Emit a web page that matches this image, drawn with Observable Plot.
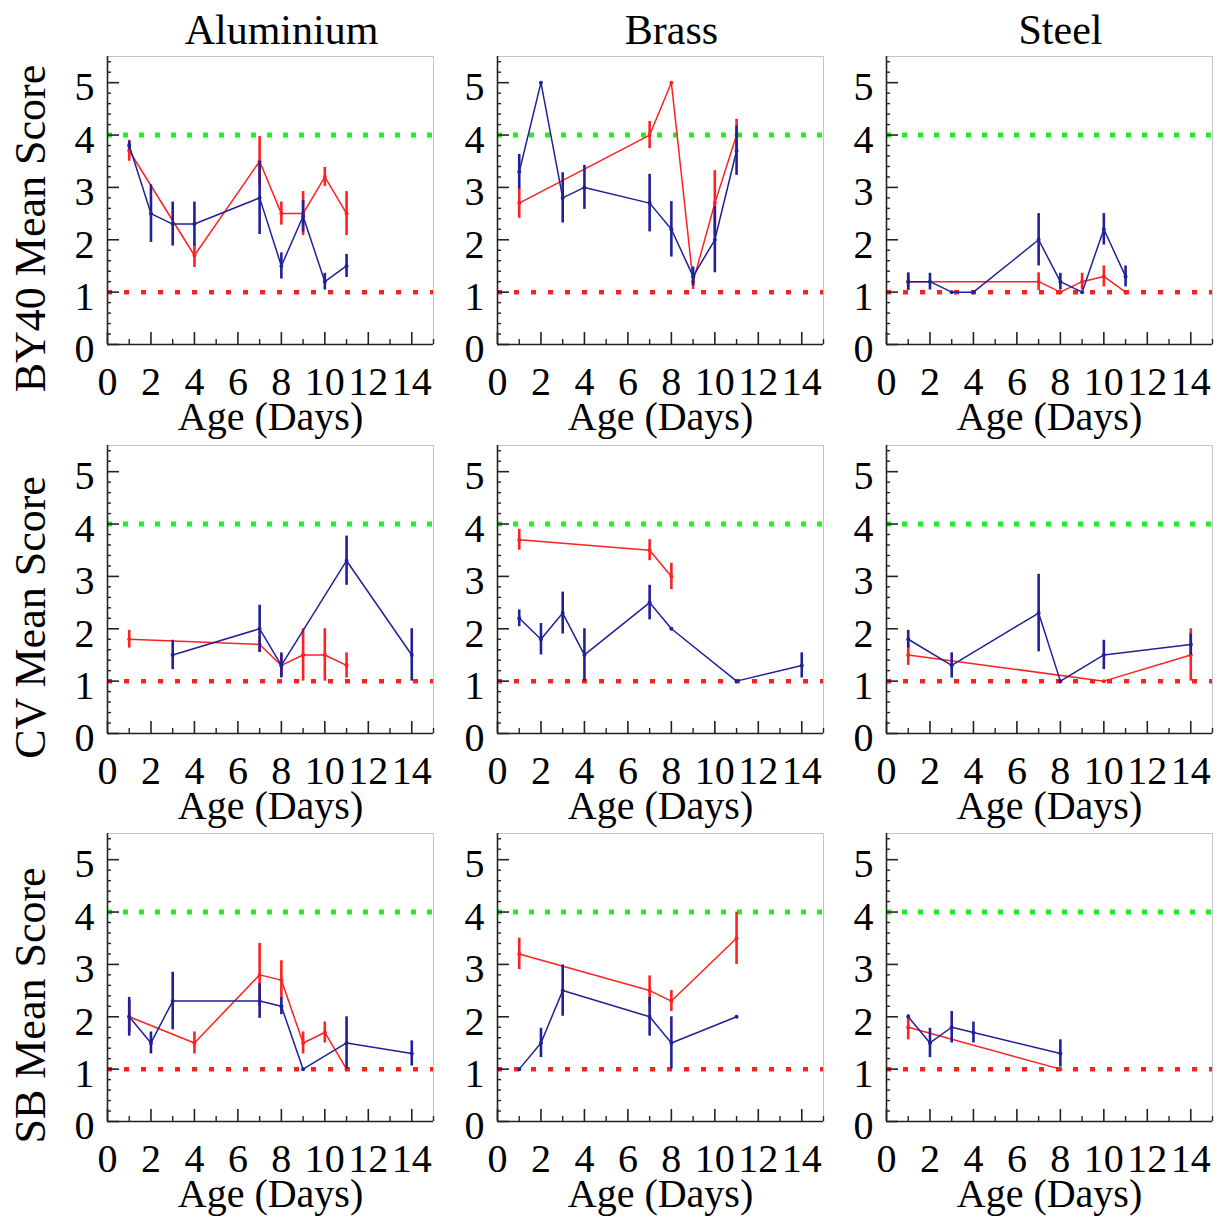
<!DOCTYPE html>
<html>
<head>
<meta charset="utf-8">
<script src="https://cdn.jsdelivr.net/npm/d3@7"></script>
<script src="https://cdn.jsdelivr.net/npm/@observablehq/plot@0.6"></script>
<style>
  html, body { margin: 0; padding: 0; background: #fff; overflow: hidden; }
  #chart { position: relative; width: 1222px; height: 1218px; }
  #chart svg { position: absolute; }
</style>
</head>
<body>
<div id="chart"></div>
<script>
// ---- categories & tick labels ----
const materials = ["Aluminium", "Brass", "Steel"];
const metrics = ["BY40", "CV", "SB"];
const rowLabels = ["BY40 Mean Score", "CV Mean Score", "SB Mean Score"];
const xLabel = "Age (Days)";
const xTickLabels = [0, 2, 4, 6, 8, 10, 12, 14];
const yTickLabels = [0, 1, 2, 3, 4, 5];
const upperThreshold = [4];
const lowerThreshold = [1];

// ---- series values: [day, mean score, error] ----
const al_by40_red  = [[1,3.7,0.2],[4,1.7,0.23],[7,3.5,0.47],[8,2.5,0.22],[9,2.5,0.42],[10,3.2,0.18],[11,2.5,0.42]];
const al_by40_blue = [[1,3.8,0.08],[2,2.5,0.55],[3,2.3,0.42],[4,2.3,0.42],[7,2.8,0.7],[8,1.5,0.25],[9,2.45,0.3],[10,1.2,0.16],[11,1.5,0.22]];
const br_by40_red  = [[1,2.7,0.29],[7,4.0,0.26],[8,5.0,0],[9,1.2,0.15],[10,2.7,0.62],[11,4.0,0.3]];
const br_by40_blue = [[1,3.3,0.33],[2,5.0,0],[3,2.8,0.48],[4,3.0,0.42],[7,2.7,0.55],[8,2.2,0.53],[9,1.3,0.18],[10,2.0,0.63],[11,3.7,0.47]];
const st_by40_red  = [[1,1.2,0.17],[7,1.2,0.17],[8,1.0,0],[9,1.2,0.16],[10,1.3,0.2],[11,1.0,0]];
const st_by40_blue = [[1,1.2,0.16],[2,1.2,0.16],[3,1.0,0],[4,1.0,0],[7,2.0,0.5],[8,1.2,0.16],[9,1.0,0],[10,2.2,0.3],[11,1.3,0.2]];

const al_cv_red  = [[1,1.8,0.17],[7,1.7,0.15],[8,1.3,0.2],[9,1.5,0.5],[10,1.5,0.5],[11,1.3,0.24]];
const al_cv_blue = [[3,1.5,0.28],[7,2.0,0.45],[8,1.3,0.24],[11,3.3,0.47],[14,1.5,0.5]];
const br_cv_red  = [[1,3.7,0.2],[7,3.5,0.2],[8,3.0,0.25]];
const br_cv_blue = [[1,2.2,0.16],[2,1.8,0.3],[3,2.3,0.4],[4,1.5,0.5],[7,2.5,0.33],[8,2.0,0],[11,1.0,0],[14,1.3,0.24]];
const st_cv_red  = [[1,1.5,0.2],[10,1.0,0],[14,1.5,0.5]];
const st_cv_blue = [[1,1.8,0.17],[3,1.3,0.24],[7,2.3,0.74],[8,1.0,0],[10,1.5,0.28],[14,1.7,0.2]];

const al_sb_red  = [[1,2.0,0.3],[4,1.5,0.21],[7,2.8,0.6],[8,2.7,0.37],[9,1.5,0.21],[10,1.7,0.2],[11,1.0,0]];
const al_sb_blue = [[1,2.0,0.37],[2,1.5,0.21],[3,2.3,0.55],[7,2.3,0.33],[8,2.2,0.16],[9,1.0,0],[11,1.5,0.5],[14,1.3,0.24]];
const br_sb_red  = [[1,3.2,0.3],[7,2.5,0.28],[8,2.3,0.2],[11,3.5,0.5]];
const br_sb_blue = [[1,1.0,0],[2,1.5,0.28],[3,2.5,0.49],[7,2.0,0.37],[8,1.5,0.5],[11,2.0,0]];
const st_sb_red  = [[1,1.8,0.24],[8,1.0,0]];
const st_sb_blue = [[1,2.0,0],[2,1.5,0.28],[3,1.8,0.3],[4,1.7,0.2],[8,1.3,0.26]];

const panels = [
  [[al_by40_red, al_by40_blue], [br_by40_red, br_by40_blue], [st_by40_red, st_by40_blue]],
  [[al_cv_red, al_cv_blue], [br_cv_red, br_cv_blue], [st_cv_red, st_cv_blue]],
  [[al_sb_red, al_sb_blue], [br_sb_red, br_sb_blue], [st_sb_red, st_sb_blue]]
];

// ---- layout & style ----
const RED = "#ff2020", BLUE = "#20209a", GREEN = "#22ee22";
const FONT = "'Liberation Serif', 'Times New Roman', serif";
const W = 432, H = 434, ML = 100, MR = 6, MT = 56, MB = 90;
const innerW = W - ML - MR, innerH = H - MT - MB;
const colLeft = [7, 397, 786];
const rowTop = [0, 389, 777];

const xMajor = d3.range(0, 15, 2);
const xMinor = d3.range(1, 16, 2);
const yMajor = d3.range(0, 6, 1);
const yMinor = d3.range(0, 28).map(i => +(0.2 * i).toFixed(1)).filter(v => Math.abs(v - Math.round(v)) > 1e-6 && v < 5.5);

function seriesMarks(data, color) {
  const acc = {x: d => d[0], y: d => d[1]};
  return [
    Plot.line(data, {...acc, stroke: color, strokeWidth: 1.5}),
    Plot.ruleX(data.filter(d => d[2] > 0), {x: d => d[0], y1: d => d[1] - d[2], y2: d => d[1] + d[2], stroke: color, strokeWidth: 2.6}),
    Plot.dot(data, {...acc, r: 2, fill: color, stroke: "none"})
  ];
}

const chart = document.getElementById("chart");
for (let r = 0; r < 3; r++) {
  for (let c = 0; c < 3; c++) {
    const [red, blue] = panels[r][c];
    const marks = [
      Plot.frame({stroke: "#c4c4c4", strokeWidth: 1}),
      Plot.ruleY(upperThreshold, {stroke: GREEN, strokeWidth: 5, strokeDasharray: "5,11"}),
      Plot.ruleY(lowerThreshold, {stroke: RED, strokeWidth: 4.5, strokeDasharray: "5,12"}),
      // axes lines
      Plot.ruleX([0], {stroke: "#222", strokeWidth: 1.6}),
      Plot.ruleY([0], {stroke: "#222", strokeWidth: 1.6}),
      // inward ticks
      Plot.ruleX(xMajor, {stroke: "#222", strokeWidth: 1.6, insetTop: innerH - 12}),
      Plot.ruleX(xMinor, {stroke: "#222", strokeWidth: 1.4, insetTop: innerH - 5}),
      Plot.ruleY(yMajor, {stroke: "#222", strokeWidth: 1.6, insetRight: innerW - 12}),
      Plot.ruleY(yMinor, {stroke: "#222", strokeWidth: 1.4, insetRight: innerW - 4}),
      Plot.axisX({ticks: xTickLabels, tickSize: 0, tickPadding: 22, label: null, fontSize: 40, tickFormat: d => String(d)}),
      Plot.axisY({ticks: yTickLabels, tickSize: 0, tickPadding: 13, label: null, fontSize: 40, dy: 5, tickFormat: d => String(d)}),
      ...seriesMarks(red, RED),
      ...seriesMarks(blue, BLUE),
      Plot.text([xLabel], {frameAnchor: "bottom", textAnchor: "middle", lineAnchor: "middle", dy: 73, fontSize: 40, fill: "black"})
    ];
    if (r === 0) {
      marks.push(Plot.text([materials[c]], {frameAnchor: "top", textAnchor: "middle", lineAnchor: "bottom", dx: 11, dy: -13, fontSize: 42, fill: "black"}));
    }
    if (c === 0) {
      marks.push(Plot.text([rowLabels[r]], {frameAnchor: "left", textAnchor: "middle", lineAnchor: "middle", rotate: -90, dx: -77, dy: 28, fontSize: 44, fill: "black"}));
    }
    const svg = Plot.plot({
      width: W, height: H,
      marginLeft: ML, marginRight: MR, marginTop: MT, marginBottom: MB,
      x: {domain: [0, 15]},
      y: {domain: [0, 5.5]},
      style: {fontFamily: FONT, color: "black", background: "transparent", overflow: "visible"},
      marks
    });
    svg.style.left = colLeft[c] + "px";
    svg.style.top = rowTop[r] + "px";
    chart.appendChild(svg);
  }
}
</script>
</body>
</html>
